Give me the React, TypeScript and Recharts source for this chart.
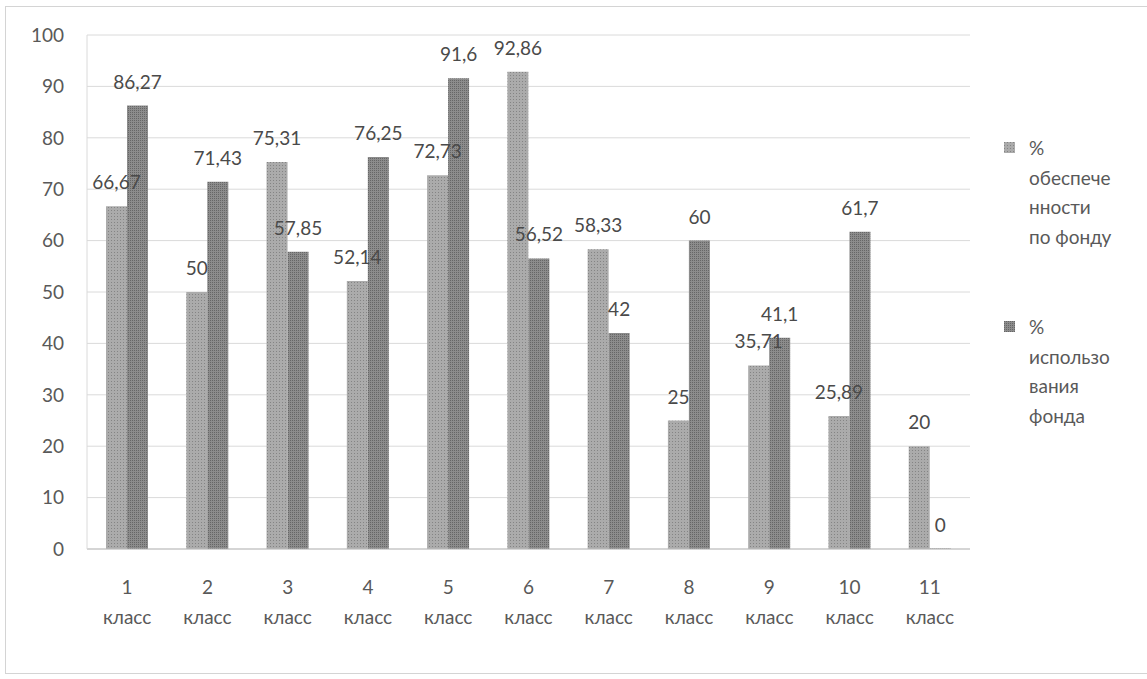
import { Bar, BarChart, CartesianGrid, LabelList, Legend, XAxis, YAxis } from 'recharts'

const classes = ['1', '2', '3', '4', '5', '6', '7', '8', '9', '10', '11']
const classWord = 'класс'
const provision = [66.67, 50, 75.31, 52.14, 72.73, 92.86, 58.33, 25, 35.71, 25.89, 20]
const usage = [86.27, 71.43, 57.85, 76.25, 91.6, 56.52, 42, 60, 41.1, 61.7, 0]
const yTicks = [0, 10, 20, 30, 40, 50, 60, 70, 80, 90, 100]
const legendLines = [
  ['%', 'обеспече', 'нности', 'по фонду'],
  ['%', 'использо', 'вания', 'фонда'],
]

const FONT = 'Lato, "Open Sans", sans-serif'
const LIGHT = '#ababab'
const DARK = '#8c8c8c'

const data = classes.map((c, i) => ({ cls: c, provision: provision[i], usage: usage[i] }))

const fmt = (v: unknown) => String(v).replace('.', ',')

function ValueLabel(props: any) {
  const { x, y, width, value } = props
  if (value === undefined || value === null) return null
  return (
    <text
      x={Number(x) + Number(width) / 2}
      y={Number(y) - 17}
      textAnchor="middle"
      fill="#4a4a4a"
      fontSize={19}
      fontFamily={FONT}
    >
      {fmt(value)}
    </text>
  )
}

function ClassTick({ x, y, payload }: { x?: number; y?: number; payload?: { value: string } }) {
  return (
    <text x={x} y={y} textAnchor="middle" fill="#595959" fontSize={19} fontFamily={FONT}>
      <tspan x={x} dy={37}>{payload?.value}</tspan>
      <tspan x={x} dy={30}>{classWord}</tspan>
    </text>
  )
}

function SideLegend() {
  const colors = ['url(#patLight)', 'url(#patDark)']
  return (
    <div style={{ paddingLeft: 34, fontFamily: FONT, fontSize: 19, color: '#595959', lineHeight: '29.5px' }}>
      {legendLines.map((lines, i) => (
        <div key={i} style={{ display: 'flex', alignItems: 'flex-start', marginTop: i === 0 ? 0 : 61 }}>
          <svg width={11} height={11} style={{ marginTop: 9, marginRight: 14, flex: 'none' }}>
            <rect width={11} height={11} fill={colors[i]} />
          </svg>
          <div>
            {lines.map((l) => (
              <div key={l}>{l}</div>
            ))}
          </div>
        </div>
      ))}
    </div>
  )
}

export default function App() {
  return (
    <div style={{ position: 'absolute', left: 0, top: 0, width: 1147, height: 679, background: '#fff' }}>
      <div
        style={{
          position: 'absolute',
          left: 5,
          top: 6,
          width: 1160,
          height: 666,
          border: '1px solid #d4d4d4',
          pointerEvents: 'none',
        }}
      />
      <BarChart
        width={1147}
        height={679}
        data={data}
        margin={{ top: 35, right: 27, bottom: 50, left: 0 }}
        barGap={0}
        barSize={21}
      >
        <defs>
          <pattern id="patLight" width={3} height={3} patternUnits="userSpaceOnUse">
            <rect width={3} height={3} fill={LIGHT} />
            <rect width={1} height={1} fill="#848484" />
          </pattern>
          <pattern id="patDark" width={2} height={2} patternUnits="userSpaceOnUse">
            <rect width={2} height={2} fill={DARK} />
            <rect width={1} height={1} fill="#666666" />
          </pattern>
        </defs>
        <CartesianGrid vertical={false} stroke="#dadada" />
        <XAxis
          dataKey="cls"
          height={80}
          tick={<ClassTick />}
          tickLine={false}
          axisLine={{ stroke: '#bdbdbd' }}
          interval={0}
        />
        <YAxis
          width={87}
          domain={[0, 100]}
          ticks={yTicks}
          tick={{ fontSize: 19, fill: '#595959', fontFamily: FONT }}
          tickLine={false}
          tickSize={0}
          tickMargin={23}
          axisLine={{ stroke: '#dadada' }}
        />
        <Legend
          layout="vertical"
          align="right"
          verticalAlign="top"
          width={150}
          wrapperStyle={{ top: 133 }}
          content={<SideLegend />}
        />
        <Bar dataKey="provision" fill="url(#patLight)" isAnimationActive={false}>
          <LabelList dataKey="provision" content={<ValueLabel />} />
        </Bar>
        <Bar dataKey="usage" fill="url(#patDark)" minPointSize={0.5} isAnimationActive={false}>
          <LabelList dataKey="usage" content={<ValueLabel />} />
        </Bar>
      </BarChart>
    </div>
  )
}
